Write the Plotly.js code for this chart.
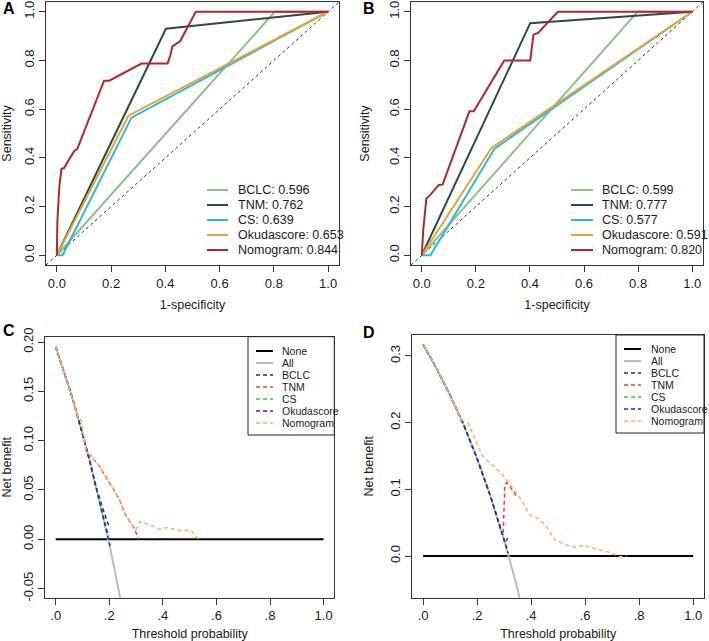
<!DOCTYPE html>
<html>
<head>
<meta charset="utf-8">
<script src="https://cdn.plot.ly/plotly-3.0.1.min.js"></script>
<style>html,body{margin:0;padding:0;background:#fff}#chart{width:709px;height:641px}</style>
</head>
<body>
<div id="chart"></div>
<script>
// ---------- DATA ----------
const modelNames = ['BCLC', 'TNM', 'CS', 'Okudascore', 'Nomogram'];
const aucA = ['0.596', '0.762', '0.639', '0.653', '0.844'];
const aucB = ['0.599', '0.777', '0.577', '0.591', '0.820'];
const rocColors = ['#8FBF8C', '#2E4A47', '#22B9EC', '#E6A52C', '#B3272A'];

// Panel A ROC (1-specificity, sensitivity)
const fprA_BCLC = [0, 0.803, 1];            const tprA_BCLC = [0, 1, 1];
const fprA_TNM  = [0, 0.402, 1];            const tprA_TNM  = [0, 0.930, 1];
const fprA_CS   = [0, 0.021, 0.275, 1];     const tprA_CS   = [0, 0, 0.565, 1];
const fprA_Okuda= [0, 0.264, 1];            const tprA_Okuda= [0, 0.573, 1];
const fprA_Nomo = [0, 0.002, 0.009, 0.017, 0.027, 0.064, 0.075, 0.174, 0.193, 0.312, 0.408, 0.418, 0.426, 0.455, 0.512, 1];
const tprA_Nomo = [0, 0.14, 0.28, 0.355, 0.359, 0.428, 0.436, 0.717, 0.717, 0.787, 0.787, 0.82, 0.858, 0.88, 1, 1];

// Panel B ROC
const fprB_BCLC = [0, 0.798, 1];            const tprB_BCLC = [0, 1, 1];
const fprB_TNM  = [0, 0.401, 1];            const tprB_TNM  = [0, 0.953, 1];
const fprB_CS   = [0, 0.032, 0.269, 1];     const tprB_CS   = [0, 0, 0.438, 1];
const fprB_Okuda= [0, 0.257, 1];            const tprB_Okuda= [0, 0.44, 1];
const fprB_Nomo = [0, 0.005, 0.017, 0.025, 0.063, 0.077, 0.176, 0.192, 0.305, 0.401, 0.413, 0.43, 0.503, 1];
const tprB_Nomo = [0, 0.1, 0.235, 0.24, 0.289, 0.29, 0.591, 0.591, 0.8, 0.8, 0.906, 0.913, 1, 1];

const refLine = [-0.04, 1.04];

// Panel C decision curves (threshold, net benefit)
const dcaNames = ['None', 'All', 'BCLC', 'TNM', 'CS', 'Okudascore', 'Nomogram'];
const dcaColors = ['#000000', '#BDBDBD', '#333333', '#FF3B3B', '#2FCB2F', '#2424C8', '#FFB266'];

const thrC_none = [0, 1];   const nbC_none = [0, 0];
const thrC_all  = [0.0, 0.03, 0.05, 0.07, 0.09, 0.11, 0.13, 0.15, 0.17, 0.19, 0.21, 0.23, 0.245];
const nbC_all   = [0.195, 0.171, 0.154, 0.136, 0.117, 0.097, 0.076, 0.054, 0.031, 0.007, -0.018, -0.044, -0.065];
const thrC_bclc = [0.0, 0.03, 0.05, 0.07, 0.09, 0.11, 0.13, 0.15, 0.175, 0.2];
const nbC_bclc  = [0.195, 0.171, 0.154, 0.136, 0.117, 0.097, 0.076, 0.054, 0.032, 0.012];
const thrC_tnm  = [0.0, 0.03, 0.05, 0.07, 0.09, 0.11, 0.115, 0.133, 0.164, 0.2, 0.239, 0.258, 0.289, 0.311];
const nbC_tnm   = [0.195, 0.171, 0.154, 0.136, 0.117, 0.097, 0.089, 0.084, 0.074, 0.057, 0.040, 0.026, 0.013, 0.0];
const thrC_cs   = [0.0, 0.03, 0.05, 0.07, 0.09, 0.11, 0.13, 0.15, 0.17, 0.18, 0.19, 0.2];
const nbC_cs    = [0.195, 0.171, 0.154, 0.136, 0.117, 0.097, 0.076, 0.054, 0.031, 0.021, 0.011, 0.003];
const thrC_okuda= [0.0, 0.03, 0.05, 0.07, 0.09, 0.11, 0.13, 0.15, 0.17, 0.19, 0.203];
const nbC_okuda = [0.195, 0.171, 0.154, 0.136, 0.117, 0.097, 0.076, 0.054, 0.031, 0.007, -0.007];
const thrC_nomo = [0.0, 0.03, 0.05, 0.07, 0.085, 0.095, 0.105, 0.115, 0.133, 0.164, 0.2, 0.239, 0.258, 0.289, 0.3, 0.314, 0.351, 0.388, 0.413, 0.463, 0.507, 0.525, 0.544];
const nbC_nomo  = [0.195, 0.171, 0.154, 0.136, 0.122, 0.121, 0.105, 0.089, 0.084, 0.074, 0.057, 0.040, 0.026, 0.013, 0.010, 0.018, 0.0145, 0.010, 0.012, 0.009, 0.0088, 0.002, 0.0];

// Panel D decision curves
const thrD_none = [0, 1];   const nbD_none = [0, 0];
const thrD_all  = [0.0, 0.05, 0.1, 0.15, 0.2, 0.25, 0.3, 0.32, 0.34, 0.36];
const nbD_all   = [0.317, 0.281, 0.241, 0.197, 0.146, 0.089, 0.024, -0.004, -0.035, -0.067];
const thrD_bclc = [0.0, 0.05, 0.1, 0.15, 0.2, 0.25, 0.3, 0.305, 0.313];
const nbD_bclc  = [0.317, 0.281, 0.241, 0.197, 0.146, 0.089, 0.024, 0.020, 0.027];
const thrD_tnm  = [0.0, 0.05, 0.1, 0.15, 0.2, 0.25, 0.29, 0.296, 0.303, 0.31, 0.325, 0.345];
const nbD_tnm   = [0.317, 0.281, 0.241, 0.197, 0.146, 0.089, 0.038, 0.031, 0.108, 0.110, 0.102, 0.090];
const thrD_cs   = [0.0, 0.05, 0.1, 0.15, 0.2, 0.25, 0.3, 0.31];
const nbD_cs    = [0.317, 0.281, 0.241, 0.197, 0.146, 0.089, 0.024, 0.011];
const thrD_okuda= [0.0, 0.05, 0.1, 0.15, 0.2, 0.25, 0.3, 0.315];
const nbD_okuda = [0.317, 0.281, 0.241, 0.197, 0.146, 0.089, 0.024, 0.004];
const thrD_nomo = [0.0, 0.05, 0.1, 0.142, 0.167, 0.185, 0.204, 0.222, 0.259, 0.29, 0.309, 0.333, 0.364, 0.395, 0.426, 0.457, 0.488, 0.531, 0.568, 0.593, 0.63, 0.654, 0.691, 0.728, 0.753];
const nbD_nomo  = [0.317, 0.281, 0.241, 0.204, 0.199, 0.181, 0.164, 0.149, 0.136, 0.124, 0.114, 0.1015, 0.084, 0.0615, 0.0565, 0.044, 0.024, 0.0165, 0.0125, 0.016, 0.0115, 0.009, 0.0055, -0.001, 0.0];

const rocTicks = [0, 0.2, 0.4, 0.6, 0.8, 1.0];
const rocTickText = ['0.0', '0.2', '0.4', '0.6', '0.8', '1.0'];
const dcaXTicks = [0, 0.2, 0.4, 0.6, 0.8, 1.0];
const dcaXTickText = ['.0', '.2', '.4', '.6', '.8', '1.0'];
const dcaCYTicks = [-0.05, 0, 0.05, 0.10, 0.15, 0.20];
const dcaCYTickText = ['-0.05', '0.00', '0.05', '0.10', '0.15', '0.20'];
const dcaDYTicks = [0, 0.1, 0.2, 0.3];
const dcaDYTickText = ['0.0', '0.1', '0.2', '0.3'];

// ---------- LAYOUT HELPERS ----------
const W = 709, H = 641;
const FONT = 'Liberation Sans, Arial, Helvetica, sans-serif';
const TXT = '#1a1a1a';
const fx = p => p / W;
const fy = p => 1 - p / H;

function axis(x0, x1, range, tv, tt, title, standoff, isY, anchor) {
  return {
    domain: isY ? [fy(x1), fy(x0)] : [fx(x0), fx(x1)],
    range: range, anchor: anchor,
    tickmode: 'array', tickvals: tv, ticktext: tt,
    tickangle: isY ? -90 : 0,
    showline: true, mirror: true, linecolor: '#333', linewidth: 1,
    ticks: 'outside', ticklen: 6, tickcolor: '#333', tickwidth: 1,
    showgrid: false, zeroline: false, fixedrange: true,
    tickfont: {family: FONT, size: 13, color: TXT},
    title: {text: title, font: {family: FONT, size: 12.5, color: TXT}, standoff: standoff},
    automargin: false
  };
}

const traces = [];
function rocSet(xa, ya, fprs, tprs) {
  traces.push({x: refLine, y: refLine, xaxis: xa, yaxis: ya, mode: 'lines',
    line: {color: '#333', width: 1, dash: '3px,3px'}, hoverinfo: 'skip', showlegend: false});
  fprs.forEach((f, i) => traces.push({x: f, y: tprs[i], xaxis: xa, yaxis: ya, mode: 'lines',
    name: modelNames[i], line: {color: rocColors[i], width: 2}, showlegend: false}));
}
rocSet('x', 'y', [fprA_BCLC, fprA_TNM, fprA_CS, fprA_Okuda, fprA_Nomo], [tprA_BCLC, tprA_TNM, tprA_CS, tprA_Okuda, tprA_Nomo]);
rocSet('x2', 'y2', [fprB_BCLC, fprB_TNM, fprB_CS, fprB_Okuda, fprB_Nomo], [tprB_BCLC, tprB_TNM, tprB_CS, tprB_Okuda, tprB_Nomo]);

function dcaSet(xa, ya, xs, ys) {
  xs.forEach((t, i) => traces.push({x: t, y: ys[i], xaxis: xa, yaxis: ya, mode: 'lines',
    name: dcaNames[i], showlegend: false,
    line: {color: dcaColors[i], width: i < 2 ? 2 : 1.5, dash: i < 2 ? 'solid' : '4px,3px'}}));
}
dcaSet('x3', 'y3', [thrC_none, thrC_all, thrC_bclc, thrC_tnm, thrC_cs, thrC_okuda, thrC_nomo],
  [nbC_none, nbC_all, nbC_bclc, nbC_tnm, nbC_cs, nbC_okuda, nbC_nomo]);
dcaSet('x4', 'y4', [thrD_none, thrD_all, thrD_bclc, thrD_tnm, thrD_cs, thrD_okuda, thrD_nomo],
  [nbD_none, nbD_all, nbD_bclc, nbD_tnm, nbD_cs, nbD_okuda, nbD_nomo]);

// ---------- legends (drawn in paper space) ----------
const shapes = [], annotations = [];
function rocLegend(lineX0, lineX1, textX, rowY0, step, aucs) {
  modelNames.forEach((n, i) => {
    const yy = rowY0 + i * step;
    shapes.push({type: 'line', xref: 'paper', yref: 'paper', x0: fx(lineX0), x1: fx(lineX1), y0: fy(yy), y1: fy(yy),
      line: {color: rocColors[i], width: 2}});
    annotations.push({xref: 'paper', yref: 'paper', x: fx(textX), y: fy(yy), xanchor: 'left', yanchor: 'middle',
      text: n + ': ' + aucs[i], showarrow: false, font: {family: FONT, size: 12.5, color: TXT}});
  });
}
rocLegend(207, 228, 236, 190, 15, aucA);
rocLegend(571, 593, 600, 190, 15, aucB);

function dcaLegend(bx0, bx1, by0, by1, lineX0, lineX1, textX, rowY0, step) {
  shapes.push({type: 'rect', xref: 'paper', yref: 'paper', x0: fx(bx0), x1: fx(bx1), y0: fy(by1), y1: fy(by0),
    line: {color: '#222', width: 1}, fillcolor: 'rgba(255,255,255,1)', layer: 'above'});
  dcaNames.forEach((n, i) => {
    const yy = rowY0 + i * step;
    shapes.push({type: 'line', xref: 'paper', yref: 'paper', x0: fx(lineX0), x1: fx(lineX1), y0: fy(yy), y1: fy(yy),
      line: {color: dcaColors[i], width: i < 2 ? 2 : 1.5, dash: i < 2 ? 'solid' : '4px,3px'}});
    annotations.push({xref: 'paper', yref: 'paper', x: fx(textX), y: fy(yy), xanchor: 'left', yanchor: 'middle',
      text: n, showarrow: false, font: {family: FONT, size: 10.5, color: TXT}});
  });
}
dcaLegend(248, 334.3, 336.7, 435, 256, 273, 280, 351, 12);
dcaLegend(616, 704, 335, 433, 624, 641, 649, 349, 12);

// panel letters
[['A', 8.5, 8.5], ['B', 368.5, 8.5], ['C', 8.5, 330], ['D', 368.5, 332]].forEach(l => {
  annotations.push({xref: 'paper', yref: 'paper', x: fx(l[1]), y: fy(l[2]), xanchor: 'center', yanchor: 'middle',
    text: '<b>' + l[0] + '</b>', showarrow: false, font: {family: FONT, size: 16, color: '#000'}});
});

const layout = {
  width: W, height: H,
  margin: {l: 0, r: 0, t: 0, b: 0, pad: 0},
  paper_bgcolor: '#fff', plot_bgcolor: '#fff',
  showlegend: false,
  font: {family: FONT, size: 12, color: TXT},
  xaxis:  axis(46, 339, [-0.04, 1.04], rocTicks, rocTickText, '1-specificity', 10, false, 'y'),
  yaxis:  axis(2, 265, [-0.04, 1.04], rocTicks, rocTickText, 'Sensitivity', 14, true, 'x'),
  xaxis2: axis(411, 703, [-0.04, 1.04], rocTicks, rocTickText, '1-specificity', 10, false, 'y2'),
  yaxis2: axis(2, 265, [-0.04, 1.04], rocTicks, rocTickText, 'Sensitivity', 14, true, 'x2'),
  xaxis3: axis(45, 334.3, [-0.04, 1.04], dcaXTicks, dcaXTickText, 'Threshold probability', 7, false, 'y3'),
  yaxis3: axis(336.7, 597.7, [-0.0592, 0.2054], dcaCYTicks, dcaCYTickText, 'Net benefit', 14, true, 'x3'),
  xaxis4: axis(412.3, 704, [-0.04, 1.04], dcaXTicks, dcaXTickText, 'Threshold probability', 7, false, 'y4'),
  yaxis4: axis(335, 597.7, [-0.0625, 0.3313], dcaDYTicks, dcaDYTickText, 'Net benefit', 11, true, 'x4'),
  shapes: shapes,
  annotations: annotations
};

Plotly.newPlot('chart', traces, layout, {displayModeBar: false, staticPlot: true});
</script>
</body>
</html>
